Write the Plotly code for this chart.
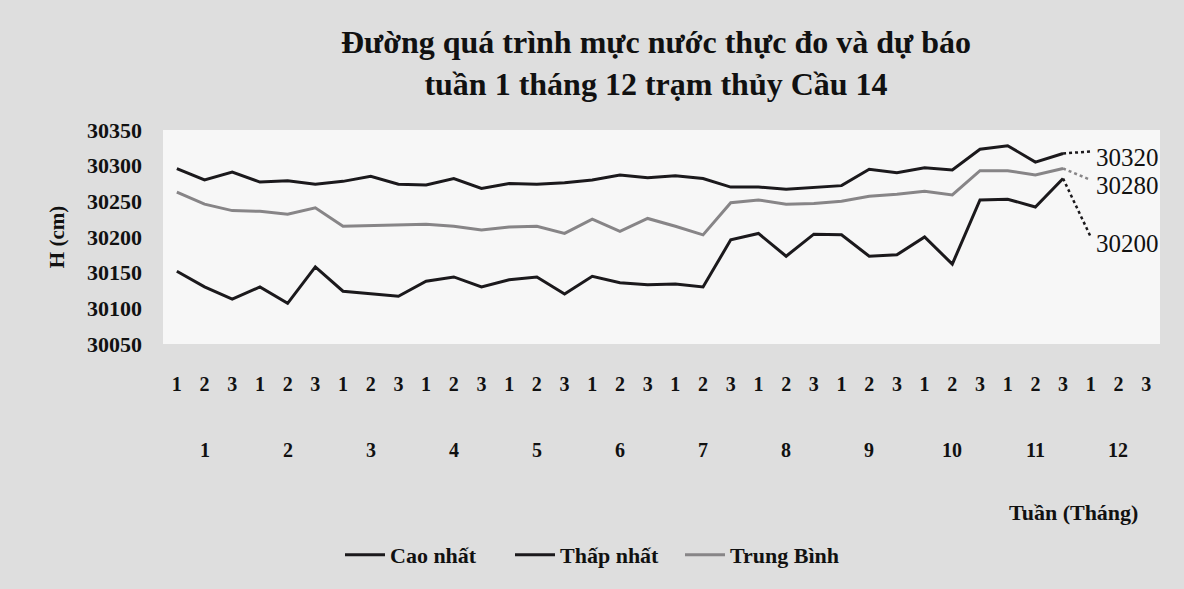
import plotly.graph_objects as go

# ---------------- data ----------------
months = [str(m) for m in range(1, 13)]
weeks = ["1", "2", "3"]
week_labels = weeks * len(months)

cao_nhat = [30296, 30280, 30291, 30277, 30279, 30274, 30278, 30285, 30274, 30273, 30282,
            30268, 30275, 30274, 30276, 30280, 30287, 30283, 30286, 30282, 30270, 30270,
            30267, 30270, 30272, 30295, 30290, 30297, 30294, 30323, 30328, 30305, 30317]
thap_nhat = [30152, 30130, 30113, 30130, 30107, 30158, 30124, 30121, 30117, 30138, 30144,
             30130, 30140, 30144, 30120, 30145, 30136, 30133, 30134, 30130, 30196, 30205,
             30173, 30204, 30203, 30173, 30175, 30200, 30162, 30252, 30253, 30242, 30282]
trung_binh = [30263, 30246, 30237, 30236, 30232, 30241, 30215, 30216, 30217, 30218, 30215,
              30210, 30214, 30215, 30205, 30225, 30208, 30226, 30215, 30203, 30248, 30252,
              30246, 30247, 30250, 30257, 30260, 30264, 30259, 30293, 30293, 30287, 30296]

forecast_cao = 30320
forecast_tb = 30280
forecast_thap = 30200

series_names = ["Cao nhất", "Thấp nhất", "Trung Bình"]
title_text = "Đường quá trình mực nước thực đo và dự báo<br>tuần 1 tháng 12 trạm thủy Cầu 14"
y_title = "H (cm)"
x_title = "Tuần (Tháng)"

# ---------------- figure ----------------
FONT = "Liberation Serif"
DARK = "#1b191c"
GRAY = "#878587"
W, H = 1184, 589
ML, MR, MT, MB = 163, 24, 130, 245
PW = W - ML - MR
PH = H - MT - MB

x_all = list(range(1, len(week_labels) + 1))
n_obs = len(cao_nhat)
x_obs = x_all[:n_obs]
x_fc = [x_all[n_obs - 1], x_all[n_obs]]

fig = go.Figure()
obs = [(cao_nhat, series_names[0], DARK), (thap_nhat, series_names[1], DARK),
       (trung_binh, series_names[2], GRAY)]
for vals, name, col in obs:
    fig.add_trace(go.Scatter(x=x_obs, y=vals, name=name, mode="lines",
                             line=dict(color=col, width=3)))

fc = [(cao_nhat, forecast_cao, DARK), (trung_binh, forecast_tb, GRAY),
      (thap_nhat, forecast_thap, DARK)]
annotations = []
for vals, f, col in fc:
    fig.add_trace(go.Scatter(x=x_fc, y=[vals[-1], f], mode="lines",
                             line=dict(color=col, width=2.5, dash="dot"),
                             showlegend=False, cliponaxis=False))
    annotations.append(dict(x=x_fc[1], y=f, xref="x", yref="y", text=str(f),
                            showarrow=False, xanchor="left", yanchor="middle",
                            xshift=3, yshift=-6,
                            font=dict(family=FONT, size=25, color="#111")))


def py(pix):
    """pixel row from top -> paper y"""
    return (H - MB - pix) / PH


for i, m in enumerate(months):
    annotations.append(dict(x=x_all[3 * i + 1], y=py(450), xref="x", yref="paper",
                            text=m, showarrow=False, xanchor="center", yanchor="middle",
                            font=dict(family=FONT, size=20, weight="bold", color="#111")))
annotations.append(dict(x=(1073 - ML) / PW, y=py(512), xref="x domain", yref="paper",
                        text=x_title, showarrow=False, xanchor="center", yanchor="middle",
                        font=dict(family=FONT, size=22, weight="bold", color="#111")))

fig.update_layout(
    width=W, height=H,
    margin=dict(l=ML, r=MR, t=MT, b=MB),
    paper_bgcolor="#dedede", plot_bgcolor="#f7f7f7",
    title=dict(text=title_text, x=656 / W, xanchor="center", y=0.91, yanchor="middle",
               font=dict(family=FONT, size=32, weight="bold", color="#111")),
    xaxis=dict(range=[0.5, len(x_all) + 0.5], tickmode="array", tickvals=x_all,
               ticktext=week_labels, showgrid=False, zeroline=False, showline=False,
               ticks="", ticklabelstandoff=26,
               tickfont=dict(family=FONT, size=20, weight="bold", color="#111")),
    yaxis=dict(range=[30050, 30350], dtick=50, tickformat="d", showgrid=False,
               zeroline=False, showline=False, ticks="", ticklabelstandoff=20,
               tickfont=dict(family=FONT, size=22, weight="bold", color="#111"),
               title=dict(text=y_title, standoff=16,
                          font=dict(family=FONT, size=21, weight="bold", color="#111"))),
    legend=dict(orientation="h", x=(340 - ML) / PW, xanchor="left", y=py(555),
                yanchor="middle", entrywidth=115, entrywidthmode="pixels",
                font=dict(family=FONT, size=22, weight="bold", color="#111"),
                bgcolor="rgba(0,0,0,0)", itemwidth=40),
    annotations=annotations,
    showlegend=True,
)

fig.write_html("out.html", config={"displayModeBar": False},
               post_script="document.body.style.margin='0';")
